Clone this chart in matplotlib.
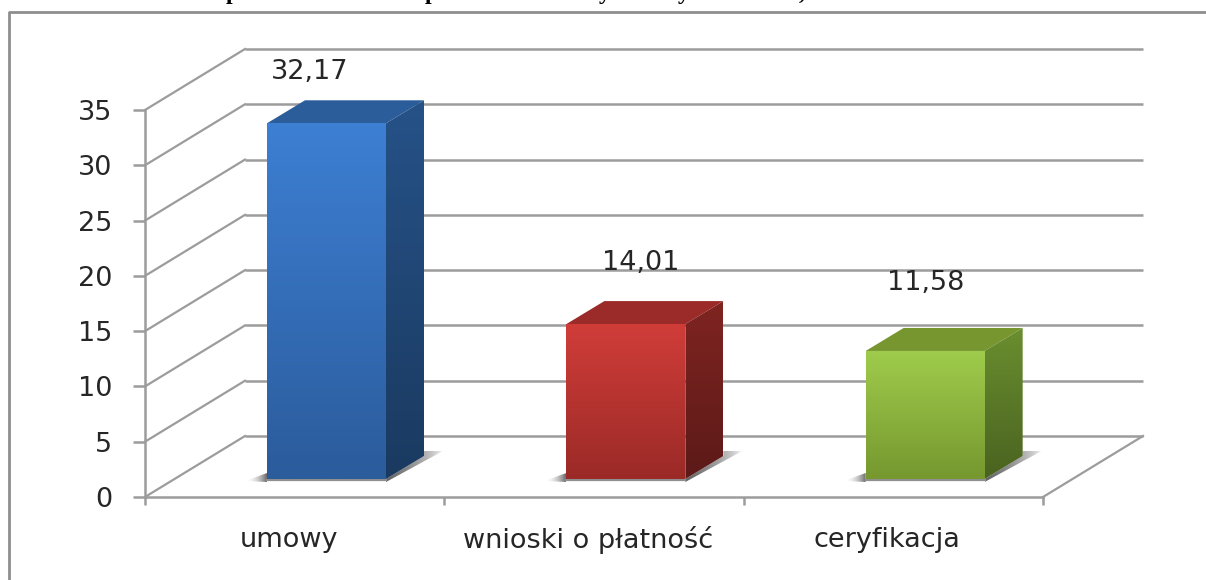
#!/usr/bin/env python3
import numpy as np
import matplotlib
matplotlib.use('Agg')
import matplotlib.pyplot as plt
from matplotlib.colors import to_rgb
from matplotlib.lines import Line2D
from matplotlib.patches import Polygon

categories = ['umowy', 'wnioski o płatność', 'ceryfikacja']
values = [32.17, 14.01, 11.58]
value_labels = ['32,17', '14,01', '11,58']
y_ticks = [0, 5, 10, 15, 20, 25, 30, 35]

W, H = 1206, 580
LEFT, RIGHT, BOTTOM, TOP = 145, 1043, 497, 110
GRID = '#9c9c9c'
TEXT = '#262626'
FS = 19.5

# depth of the fake 3d box, in pixels
BACK_DX, BACK_DY = 100, 61
BAR_X, BAR_Y = 122, 18    # front left corner of a bar, from its category start
BAR_W = 119
BAR_DX, BAR_DY = 38, 23

# face colours: front top/bottom, side top/bottom, top
bar_colors = [('#3d7fd3', '#2b5c9c', '#265288', '#1a3a60', '#2b5d9b'),
              ('#d03d39', '#9b2a27', '#7f2421', '#5c1a18', '#9b2b29'),
              ('#9fcc4c', '#76982f', '#6a8e2f', '#4a6320', '#77962f')]
# hand placed data labels in the original, offset from the bar top (dx, dy px)
label_offsets = [(43, 51), (74, 61), (60, 68)]
title_bits = [('p', 232), ('p', 431), ('y', 605), ('y', 684), (',', 802)]

fig = plt.figure(figsize=(W / 100, H / 100), dpi=100, facecolor='white')
ax = fig.add_axes([LEFT / W, 1 - BOTTOM / H, (RIGHT - LEFT) / W, (BOTTOM - TOP) / H])
ax.patch.set_visible(False)

PX_X = 3 / (RIGHT - LEFT)
PX_Y = 35 / (BOTTOM - TOP)


def vgrad(c1, c2):
    c1, c2 = np.array(to_rgb(c1)), np.array(to_rgb(c2))
    t = np.linspace(0, 1, 64)[:, None, None]
    return c1[None, None, :] * (1 - t) + c2[None, None, :] * t


def gradient_poly(pts, image, zorder):
    pts = np.array(pts)
    patch = Polygon(pts, closed=True, fc='none', ec='none', clip_on=False, zorder=zorder)
    ax.add_patch(patch)
    extent = (pts[:, 0].min(), pts[:, 0].max(), pts[:, 1].min(), pts[:, 1].max())
    im = ax.imshow(image, extent=extent, aspect='auto', origin='upper',
                   interpolation='bilinear', zorder=zorder)
    # bars stick out above the axes box, so only the polygon may clip
    im.set_clip_box(fig.bbox)
    im.set_clip_path(patch)


def hshadow(a_start, a_end, power=1.0):
    img = np.zeros((1, 64, 4))
    img[..., :3] = 0.35
    img[..., 3] = a_end + (a_start - a_end) * np.linspace(1, 0, 64) ** power
    return img


dx_back, dy_back = BACK_DX * PX_X, BACK_DY * PX_Y

# walls: slanted and back grid lines
for v in y_ticks:
    ax.plot([0, dx_back], [v, v + dy_back], color=GRID, lw=1.6, clip_on=False, zorder=1)
    ax.plot([dx_back, 3 + dx_back], [v + dy_back] * 2, color=GRID, lw=1.8,
            clip_on=False, zorder=1, solid_capstyle='butt')
# right edge of the floor
ax.plot([3, 3 + dx_back], [0, dy_back], color=GRID, lw=1.6, clip_on=False, zorder=1)

# bars
for i, (val, cols) in enumerate(zip(values, bar_colors)):
    x0 = i + BAR_X * PX_X
    x1 = x0 + BAR_W * PX_X
    y0 = BAR_Y * PX_Y
    y1 = y0 + val
    ddx, ddy = BAR_DX * PX_X, BAR_DY * PX_Y

    # floor shadows
    gradient_poly([(x0 - 22 * PX_X, y0 - 2 * PX_Y), (x0, y0 + 6 * PX_Y), (x0, y0 - 3 * PX_Y)],
                  hshadow(0.9, 0, power=2)[:, ::-1], 2)
    gradient_poly([(x1, y0 - 3 * PX_Y), (x1 + 57 * PX_X, y0 + 28 * PX_Y),
                   (x1 + ddx, y0 + 28 * PX_Y), (x1 + ddx, y0 + ddy), (x1, y0)],
                  hshadow(0.95, 0, power=0.6), 2)
    ax.plot([x0, x1], [y0 - 1.2 * PX_Y] * 2, color='#8f8f8f', lw=1.6, clip_on=False, zorder=2)

    # top, side and front faces
    ax.add_patch(Polygon([(x0, y1), (x1, y1), (x1 + ddx, y1 + ddy), (x0 + ddx, y1 + ddy)],
                         closed=True, fc=cols[4], ec='none', clip_on=False, zorder=3))
    gradient_poly([(x1, y0), (x1 + ddx, y0 + ddy), (x1 + ddx, y1 + ddy), (x1, y1)],
                  vgrad(cols[2], cols[3]), 3)
    gradient_poly([(x0, y0), (x1, y0), (x1, y1), (x0, y1)],
                  vgrad(cols[0], cols[1]), 4)

    ox, oy = label_offsets[i]
    ax.text(x0 + ox * PX_X, y1 + oy * PX_Y, value_labels[i], ha='center', va='center',
            fontsize=FS, color=TEXT, clip_on=False, zorder=6)
    ax.text(i + 0.48, -43 * PX_Y, categories[i], ha='center', va='center',
            fontsize=FS, color=TEXT, clip_on=False, zorder=6)

ax.set_xlim(0, 3)
ax.set_ylim(0, 35)
ax.set_xticks([0, 1, 2, 3])
ax.set_xticklabels([])
ax.set_yticks(y_ticks)
ax.set_yticklabels([str(v) for v in y_ticks], fontsize=FS, color=TEXT)
ax.tick_params(axis='x', length=6, width=1.8, color=GRID)
ax.tick_params(axis='y', length=8.6, width=1.8, color=GRID, pad=15)
for name, spine in ax.spines.items():
    spine.set_visible(name in ('left', 'bottom'))
    spine.set_color(GRID)
    spine.set_linewidth(1.8)

# outer chart frame, runs off the right and bottom of the scan
fig.add_artist(Line2D([9 / W, 9 / W, 1], [0, 1 - 12 / H, 1 - 12 / H],
                      transform=fig.transFigure, color='#8e8e8e', lw=2))

# only the descenders of the cropped heading are left in the picture
for ch, px in title_bits:
    fig.text(px / W, 1 + 1 / H, ch, ha='center', va='baseline', fontsize=17,
             fontweight='bold', family='Liberation Serif', color='black')

fig.savefig('out.png', dpi=100, facecolor='white')
plt.close(fig)
